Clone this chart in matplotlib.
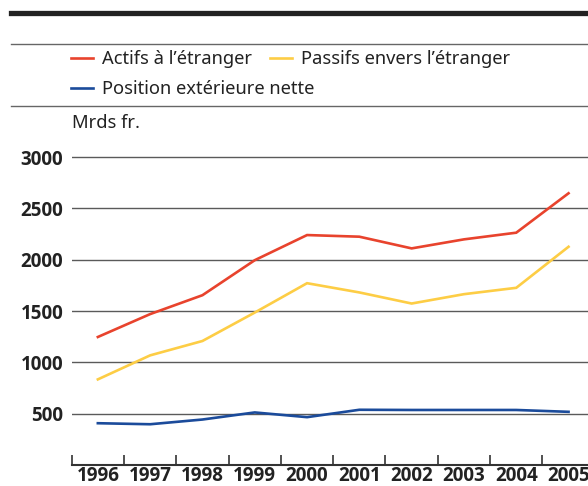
import matplotlib
matplotlib.use('Agg')
import matplotlib.pyplot as plt
from matplotlib.lines import Line2D

years = [1996, 1997, 1998, 1999, 2000, 2001, 2002, 2003, 2004, 2005]
actifs = [1247, 1470, 1654, 1995, 2240, 2224, 2110, 2198, 2263, 2647]
passifs = [834, 1068, 1208, 1485, 1771, 1681, 1573, 1664, 1726, 2126]
position = [407, 397, 443, 512, 466, 538, 536, 536, 536, 518]

y_ticks = [500, 1000, 1500, 2000, 2500, 3000]

red = '#E8432D'
yellow = '#FDCD45'
blue = '#1B4B9B'

num_font = ['Open Sans', 'DejaVu Sans']

W, H = 588, 486
fig = plt.figure(figsize=(W / 100, H / 100), dpi=100)

def fx(px):
    return px / W

def fy(py):
    return 1 - py / H

# plot area
ax = fig.add_axes([fx(71.7), fy(465), fx(588) - fx(71.7), fy(151.9) - fy(465)])
ax.plot(years, actifs, color=red, lw=1.9, solid_joinstyle='miter')
ax.plot(years, passifs, color=yellow, lw=1.9, solid_joinstyle='miter')
ax.plot(years, position, color=blue, lw=1.9, solid_joinstyle='miter')

ax.set_yticks(y_ticks)
ax.set_yticklabels([str(v) for v in y_ticks], family=num_font, fontweight='bold',
                   fontsize=13.5, color='#222222')
ax.tick_params(axis='y', length=0, pad=6)
ax.grid(axis='y', color='#5a5a5a', lw=1.0)
ax.set_axisbelow(True)

# tick marks between years, labels centred on years
ax.set_xticks([y - 0.5 for y in years])
ax.set_xticklabels([])
ax.set_xticks(years, minor=True)
ax.set_xticklabels([str(y) for y in years], minor=True, family=num_font,
                   fontweight='bold', fontsize=13.5, color='#222222')
ax.tick_params(axis='x', which='major', direction='in', length=7, width=1.2,
               color='#333333')
ax.tick_params(axis='x', which='minor', length=0, pad=1)

# limits set after the ticks so they are not widened
ax.set_xlim(1995.5, 2005.372)
ax.set_ylim(0, 3050)

for s in ['top', 'right', 'left']:
    ax.spines[s].set_visible(False)
ax.spines['bottom'].set_color('#333333')
ax.spines['bottom'].set_linewidth(1.5)

# header rules
fig.add_artist(Line2D([fx(10.7), 1], [fy(13.3), fy(13.3)], color='#222222', lw=3.8))
fig.add_artist(Line2D([fx(10.7), 1], [fy(44.3), fy(44.3)], color='#666666', lw=1.0))
fig.add_artist(Line2D([fx(10.7), 1], [fy(106), fy(106)], color='#666666', lw=1.0))

# legend, laid out by rows
txt_prop = {'family': ['Noto Sans', 'DejaVu Sans'], 'size': 13.2}
h_red = Line2D([], [], color=red, lw=1.9)
h_yel = Line2D([], [], color=yellow, lw=1.9)
h_blu = Line2D([], [], color=blue, lw=1.9)
leg_kw = dict(frameon=False, loc='center left', borderpad=0, borderaxespad=0,
              handlelength=1.2, handletextpad=0.5, columnspacing=0.95,
              prop=txt_prop, labelcolor='#222222')
fig.legend([h_red, h_yel], ['Actifs à l’étranger', 'Passifs envers l’étranger'],
           ncol=2, bbox_to_anchor=(fx(71), fy(59.5)), **leg_kw)
fig.legend([h_blu], ['Position extérieure nette'],
           bbox_to_anchor=(fx(71), fy(89)), **leg_kw)

fig.text(fx(71.7), fy(127.7), 'Mrds fr.', family=['Noto Sans', 'DejaVu Sans'],
         fontsize=13.2, color='#222222', va='baseline', ha='left')

fig.savefig('out.png', dpi=100)
